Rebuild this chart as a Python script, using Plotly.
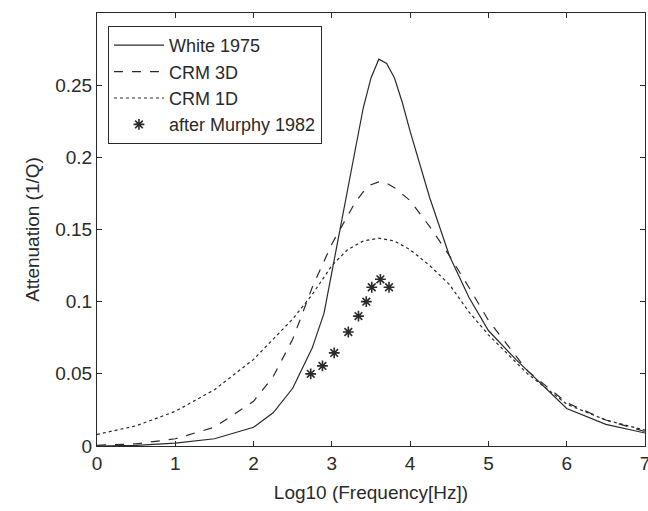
import plotly.graph_objects as go

# White 1975 (solid)
white_x = [0, 0.5, 1, 1.5, 2, 2.25, 2.5, 2.75, 2.9, 3.0, 3.1, 3.2, 3.3, 3.4, 3.5, 3.6, 3.7, 3.8, 3.9, 4.0, 4.25, 4.5, 4.75, 5.0, 5.35, 5.75, 6.0, 6.5, 7.0]
white_y = [0.0, 0.0005, 0.002, 0.005, 0.013, 0.023, 0.040, 0.068, 0.092, 0.120, 0.149, 0.178, 0.206, 0.234, 0.255, 0.268, 0.265, 0.255, 0.238, 0.218, 0.172, 0.132, 0.103, 0.080, 0.060, 0.039, 0.026, 0.015, 0.009]

# CRM 3D (dashed)
crm3_x = [0, 0.5, 1, 1.5, 2, 2.25, 2.5, 2.75, 3.0, 3.1, 3.2, 3.3, 3.4, 3.5, 3.6, 3.7, 3.8, 4.0, 4.25, 4.5, 4.75, 5.0, 5.5, 6.0, 6.5, 7.0]
crm3_y = [0.0005, 0.0015, 0.005, 0.013, 0.031, 0.048, 0.074, 0.110, 0.140, 0.150, 0.160, 0.169, 0.176, 0.181, 0.183, 0.182, 0.179, 0.170, 0.152, 0.132, 0.110, 0.087, 0.052, 0.030, 0.018, 0.010]

# CRM 1D (dotted)
crm1_x = [0, 0.5, 1, 1.5, 2, 2.25, 2.5, 2.75, 3.0, 3.2, 3.4, 3.6, 3.8, 4.0, 4.25, 4.5, 4.75, 5.0, 5.5, 6.0, 6.5, 7.0]
crm1_y = [0.008, 0.014, 0.024, 0.039, 0.060, 0.074, 0.088, 0.105, 0.125, 0.136, 0.142, 0.144, 0.142, 0.136, 0.125, 0.112, 0.093, 0.077, 0.050, 0.029, 0.018, 0.011]

# after Murphy 1982 (stars)
murphy_x = [2.73, 2.88, 3.03, 3.21, 3.34, 3.44, 3.51, 3.62, 3.73]
murphy_y = [0.050, 0.0555, 0.0645, 0.079, 0.090, 0.100, 0.110, 0.1155, 0.110]

x_ticks = [0, 1, 2, 3, 4, 5, 6, 7]
y_ticks = [0, 0.05, 0.1, 0.15, 0.2, 0.25]
y_tick_labels = ["0", "0.05", "0.1", "0.15", "0.2", "0.25"]

ink = "#2a2a2a"
fs = 19

fig = go.Figure()
fig.add_trace(go.Scatter(x=white_x, y=white_y, mode="lines", name="White 1975",
                         line=dict(color=ink, width=1.2)))
fig.add_trace(go.Scatter(x=crm3_x, y=crm3_y, mode="lines", name="CRM 3D",
                         line=dict(color=ink, width=1.2, dash="dash")))
fig.add_trace(go.Scatter(x=crm1_x, y=crm1_y, mode="lines", name="CRM 1D",
                         line=dict(color=ink, width=1.2, dash="dot")))
fig.add_trace(go.Scatter(x=murphy_x, y=murphy_y, mode="markers", name="after Murphy 1982",
                         marker=dict(symbol="asterisk-open", size=9, color=ink,
                                     line=dict(color=ink, width=1.6))))

axis_common = dict(showline=True, linecolor=ink, linewidth=1, mirror="ticks",
                   ticks="inside", ticklen=5, tickcolor=ink, showgrid=False,
                   zeroline=False, tickfont=dict(size=fs, color=ink),
                   title_font=dict(size=fs, color=ink), ticklabeloverflow="allow",
                   automargin=False)

fig.update_xaxes(range=[0, 7], tickvals=x_ticks, title_text="Log10 (Frequency[Hz])",
                 title_standoff=12, **axis_common)
fig.update_yaxes(range=[0, 0.3], tickvals=y_ticks, ticktext=y_tick_labels,
                 title_text="Attenuation (1/Q)", title_standoff=10, **axis_common)

fig.update_layout(
    width=648, height=511,
    margin=dict(l=97, r=3, t=13, b=65),
    paper_bgcolor="white", plot_bgcolor="white",
    font=dict(family="Liberation Sans, Arial, sans-serif", color=ink, size=fs),
    legend=dict(x=0.02, y=0.97, xanchor="left", yanchor="top",
                bordercolor=ink, borderwidth=1, bgcolor="white",
                font=dict(size=18, color=ink), itemwidth=50,
                tracegroupgap=0),
    showlegend=True,
)

fig.write_html("out.html")
